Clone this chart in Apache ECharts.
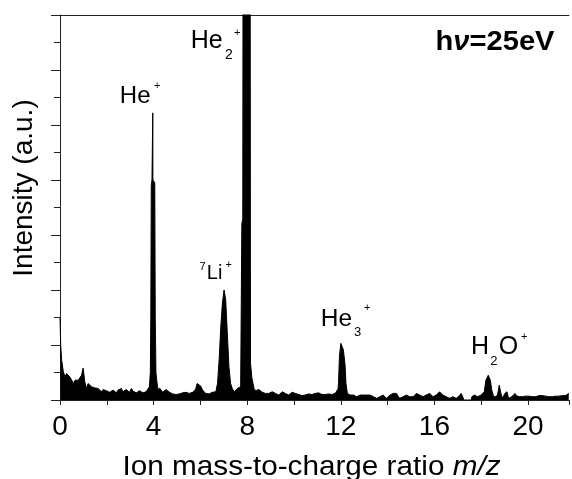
<!DOCTYPE html>
<html>
<head>
<meta charset="utf-8">
<script src="https://cdn.jsdelivr.net/npm/echarts@6/dist/echarts.min.js"></script>
<style>html,body{margin:0;padding:0;background:#fff}#c{width:572px;height:479px}</style>
</head>
<body>
<div id="c"></div>
<script>
// m/z values (x) and intensities (a.u.)
var mz = [0.00,0.03,0.07,0.14,0.21,0.28,0.35,0.42,0.50,0.57,0.64,0.71,0.78,0.85,0.92,0.99,1.06,1.13,1.20,1.27,1.35,1.42,1.49,1.56,1.63,1.70,1.77,1.84,1.91,1.98,2.05,2.12,2.20,2.27,2.34,2.41,2.48,2.55,2.62,2.69,2.76,2.83,2.90,2.97,3.05,3.12,3.19,3.26,3.33,3.40,3.47,3.54,3.61,3.68,3.75,3.82,3.86,3.88,3.90,3.93,3.96,3.965,3.97,4.00,4.05,4.07,4.10,4.18,4.25,4.32,4.39,4.46,4.53,4.60,4.68,4.75,4.82,4.89,4.96,5.03,5.10,5.17,5.24,5.31,5.38,5.45,5.52,5.60,5.67,5.74,5.80,5.86,5.94,6.02,6.09,6.16,6.23,6.30,6.37,6.44,6.51,6.58,6.66,6.73,6.80,6.87,6.94,7.01,7.08,7.15,7.22,7.29,7.36,7.44,7.51,7.58,7.65,7.72,7.75,7.77,7.81,7.83,7.97,8.12,8.14,8.20,8.29,8.36,8.43,8.50,8.57,8.64,8.71,8.78,8.85,8.92,9.00,9.07,9.14,9.21,9.28,9.35,9.42,9.49,9.56,9.63,9.70,9.77,9.84,9.92,9.99,10.06,10.13,10.20,10.27,10.34,10.41,10.48,10.55,10.62,10.70,10.77,10.84,10.91,10.98,11.05,11.12,11.19,11.26,11.33,11.40,11.47,11.55,11.62,11.69,11.76,11.83,11.88,11.90,11.94,12.00,12.04,12.11,12.18,12.22,12.28,12.34,12.40,12.47,12.54,12.61,12.68,12.75,12.82,12.89,12.96,13.03,13.10,13.18,13.25,13.32,13.39,13.46,13.53,13.60,13.67,13.74,13.81,13.88,13.95,14.02,14.10,14.17,14.24,14.31,14.38,14.45,14.52,14.59,14.66,14.73,14.80,14.87,14.94,15.01,15.09,15.16,15.23,15.30,15.37,15.44,15.51,15.58,15.65,15.72,15.80,15.87,15.94,16.01,16.08,16.15,16.22,16.29,16.36,16.43,16.50,16.57,16.64,16.72,16.79,16.86,16.93,17.00,17.07,17.14,17.21,17.25,17.57,17.60,17.70,17.78,17.85,17.92,17.99,18.06,18.13,18.20,18.30,18.39,18.45,18.53,18.63,18.70,18.77,18.84,18.91,19.01,19.10,19.17,19.27,19.36,19.44,19.50,19.55,19.62,19.69,19.76,19.83,19.90,19.97,20.04,20.11,20.18,20.25,20.33,20.40,20.47,20.54,20.61,20.68,20.75,20.82,20.90,20.97,21.04,21.11,21.18,21.25,21.32,21.39,21.46,21.53,21.60,21.67,21.74];
var intensity = [1.49,1.0,0.73,0.52,0.42,0.48,0.49,0.42,0.36,0.30,0.36,0.33,0.36,0.33,0.45,0.58,0.33,0.21,0.30,0.33,0.24,0.21,0.22,0.19,0.21,0.18,0.15,0.19,0.21,0.17,0.18,0.14,0.15,0.18,0.15,0.13,0.18,0.16,0.21,0.15,0.15,0.19,0.18,0.14,0.21,0.16,0.18,0.13,0.15,0.17,0.15,0.13,0.12,0.15,0.15,0.24,0.5,1.5,3.9,4.0,4.0,5.22,4.0,4.0,3.95,1.5,0.5,0.18,0.22,0.20,0.14,0.15,0.19,0.18,0.14,0.15,0.11,0.09,0.10,0.09,0.11,0.12,0.13,0.12,0.14,0.15,0.12,0.12,0.14,0.15,0.2,0.3,0.30,0.25,0.18,0.18,0.12,0.10,0.11,0.12,0.14,0.15,0.15,0.30,0.73,1.33,1.76,2.0,1.82,1.21,0.60,0.30,0.21,0.15,0.18,0.21,0.22,0.24,0.25,3.2,3.3,12,14,12,0.67,0.4,0.21,0.17,0.15,0.19,0.18,0.14,0.15,0.12,0.09,0.12,0.13,0.15,0.13,0.12,0.10,0.09,0.12,0.15,0.13,0.12,0.10,0.09,0.12,0.14,0.15,0.12,0.12,0.10,0.09,0.08,0.06,0.09,0.12,0.11,0.09,0.10,0.09,0.12,0.15,0.13,0.12,0.10,0.09,0.10,0.09,0.11,0.12,0.10,0.09,0.12,0.15,0.2,0.30,0.79,1.03,1.06,0.91,0.64,0.30,0.12,0.10,0.09,0.10,0.09,0.08,0.06,0.08,0.09,0.10,0.09,0.08,0.09,0.10,0.09,0.07,0.06,0.05,0.03,0.05,0.06,0.08,0.09,0.06,0.03,0.06,0.09,0.11,0.12,0.11,0.12,0.07,0.03,0.05,0.06,0.08,0.09,0.07,0.06,0.07,0.06,0.09,0.12,0.10,0.09,0.07,0.06,0.08,0.09,0.10,0.12,0.09,0.06,0.07,0.09,0.12,0.15,0.12,0.09,0.06,0.06,0.05,0.03,0.06,0.06,0.05,0.03,0.06,0.08,0.12,0.06,0.0,0.0,0.06,0.09,0.07,0.06,0.08,0.09,0.10,0.15,0.36,0.45,0.36,0.18,0.06,0.06,0.10,0.27,0.12,0.03,0.12,0.15,0.03,0.05,0.08,0.12,0.08,0.06,0.06,0.07,0.06,0.06,0.07,0.06,0.07,0.06,0.06,0.07,0.06,0.07,0.08,0.11,0.08,0.06,0.07,0.06,0.06,0.07,0.06,0.06,0.07,0.06,0.07,0.06,0.08,0.09,0.08,0.09,0.12];
var xLabelStep = 4;   // labelled x ticks
var xTickStep = 2;    // x tick interval
var yTickStep = 1;    // y major tick interval

var FONT = 'Liberation Sans, Arial, sans-serif';
var chart = echarts.init(document.getElementById('c'), null, {renderer: 'canvas'});
var axisColor = '#222';

function txt(t, x, y, size, extra) {
  var s = {text: t, x: x, y: y, fontSize: size, fontFamily: FONT, fill: '#000',
           textAlign: 'left', textVerticalAlign: 'middle', align: 'left', verticalAlign: 'middle'};
  if (extra) for (var k in extra) s[k] = extra[k];
  return {type: 'text', z: 100, style: s};
}

var option = {
  animation: false,
  backgroundColor: '#fff',
  grid: {left: 60, right: 0, top: 15, bottom: 79, containLabel: false},
  xAxis: [{
    type: 'value', min: 0, max: 21.75, interval: xTickStep, position: 'bottom',
    axisLine: {show: true, onZero: false, lineStyle: {color: axisColor, width: 1}},
    axisTick: {show: true, inside: false, length: 5, lineStyle: {color: axisColor}},
    axisLabel: {show: true, margin: 13, fontSize: 28, fontFamily: FONT, color: '#000',
      formatter: function (v) { return (Math.abs(v % xLabelStep) < 1e-9) ? String(v) : ''; }},
    splitLine: {show: false}
  }, {
    type: 'value', min: 0, max: 21.75, position: 'top',
    axisLine: {show: true, onZero: false, lineStyle: {color: axisColor, width: 1}},
    axisTick: {show: false}, axisLabel: {show: false}, splitLine: {show: false}
  }],
  yAxis: {
    type: 'value', min: 0, max: 7, interval: yTickStep,
    axisLine: {show: true, onZero: false, lineStyle: {color: axisColor, width: 1}},
    axisTick: {show: true, inside: false, length: 9, lineStyle: {color: axisColor}},
    minorTick: {show: true, splitNumber: 2, length: 6, lineStyle: {color: axisColor}},
    axisLabel: {show: false},
    splitLine: {show: false}
  },
  series: [{
    type: 'line', xAxisIndex: 0,
    data: mz.map(function (m, i) { return [m, intensity[i]]; }),
    symbol: 'none', clip: true, smooth: false,
    lineStyle: {color: '#000', width: 1},
    areaStyle: {color: '#000', opacity: 1}
  }],
  graphic: [
    // axis titles
    {type: 'text', z: 100, x: 24, y: 188, rotation: Math.PI / 2,
      style: {text: 'Intensity (a.u.)', fontSize: 28, fontFamily: FONT, fill: '#000',
        textAlign: 'center', textVerticalAlign: 'middle', align: 'center', verticalAlign: 'middle'}},
    {type: 'text', z: 100, x: 311.5, y: 467.5, scaleX: 1.08,
      style: {text: '{n|Ion mass-to-charge ratio }{i|m/z}', fill: '#000',
        textAlign: 'center', textVerticalAlign: 'middle', align: 'center', verticalAlign: 'middle',
        rich: {n: {fontSize: 27.5, fontFamily: FONT, fill: '#000', color: '#000'},
               i: {fontSize: 27.5, fontFamily: FONT, fontStyle: 'italic', fill: '#000', color: '#000'}}}},
    // photon energy
    {type: 'text', z: 100, x: 435.5, y: 42, scaleX: 1.04,
      style: {text: '{b|h}{i|ν}{b|=25eV}', fill: '#000',
        textAlign: 'left', textVerticalAlign: 'middle', align: 'left', verticalAlign: 'middle',
        rich: {b: {fontSize: 28, fontWeight: 'bold', fontFamily: FONT, fill: '#000', color: '#000'},
               i: {fontSize: 28, fontWeight: 'bold', fontStyle: 'italic', fontFamily: FONT, fill: '#000', color: '#000'}}}},
    // He+
    txt('He', 119.8, 96.2, 24), txt('+', 154, 86, 11),
    // He2+
    txt('He', 190.8, 40.8, 25), txt('2', 225, 55, 14), txt('+', 234, 32.5, 11),
    // 7Li+
    txt('7', 199.6, 267, 11), txt('Li', 206.8, 273.8, 20), txt('+', 225.5, 265, 11),
    // He3+
    txt('He', 320.8, 319.2, 24.5), txt('3', 354, 332.5, 13), txt('+', 364, 308, 11),
    // H2O+
    txt('H', 471.1, 347.3, 25), txt('2', 490.3, 361, 13), txt('O', 498.8, 347.3, 25), txt('+', 521, 337, 11)
  ]
};
chart.setOption(option);
</script>
</body>
</html>
